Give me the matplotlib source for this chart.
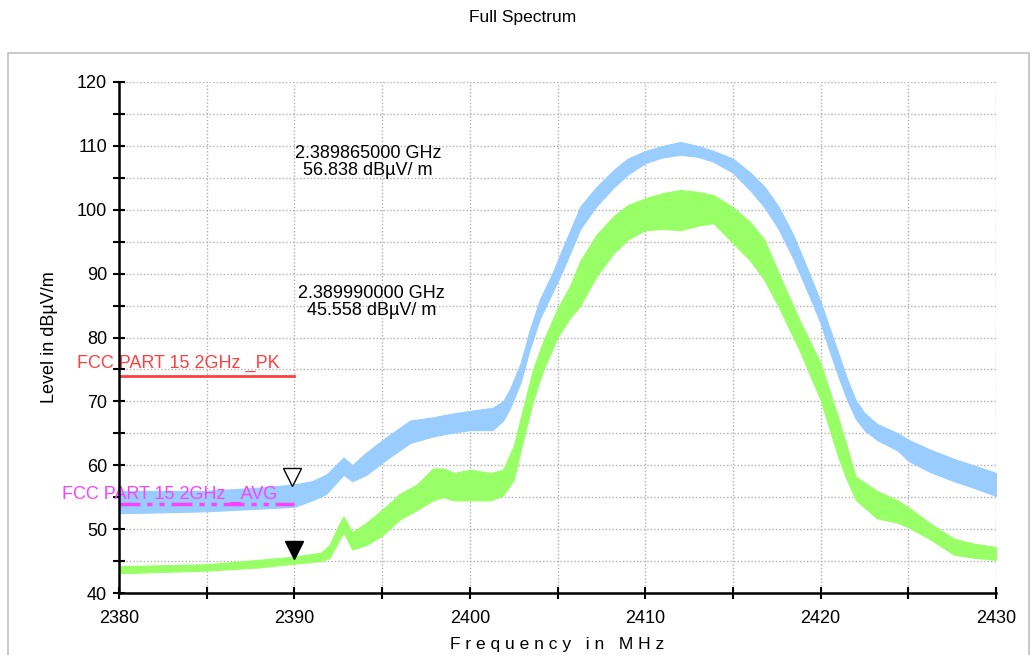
import matplotlib
matplotlib.use('Agg')
import matplotlib.pyplot as plt
from matplotlib.patches import Rectangle
from matplotlib.ticker import MultipleLocator

plt.rcParams['font.family'] = ['Liberation Sans', 'DejaVu Sans']

# peak trace (light blue): frequency [MHz], lower / upper edge of the noisy band [dBuV/m]
pk_freq = [2380, 2382, 2385, 2388, 2390, 2391, 2391.8, 2392.8, 2393.3, 2394.1, 2395.3,
           2396.6, 2397.9, 2398.8, 2400, 2401.3, 2401.9, 2402.3, 2402.9, 2403.4, 2404.0,
           2404.7, 2405.3, 2406.3, 2407.2, 2408.2, 2409, 2410, 2411, 2412, 2413, 2413.9,
           2415, 2416, 2416.8, 2417.6, 2418.4, 2419, 2419.5, 2420, 2420.5, 2421, 2421.5,
           2422, 2422.5, 2423.2, 2424.4, 2425, 2426.2, 2427.6, 2428.7, 2430]
pk_lo = [52.5, 52.6, 52.8, 53.2, 53.5, 54.5, 55.5, 58.5, 57.5, 58.5, 61,
         63.5, 64.5, 65, 65.5, 65.5, 67, 69, 73, 78, 83,
         87, 90.5, 97, 100.5, 103.5, 105.5, 107.3, 108.2, 108.6, 108.3, 107.5,
         105.8, 103, 100.4, 97, 92.6, 88.8, 85.6, 82.2, 78, 74, 70.3,
         67.3, 65.5, 64, 62.3, 60.7, 59, 57.5, 56.5, 55.2]
pk_hi = [56, 56, 56, 56.5, 57, 57.5, 58.5, 61.2, 60, 62, 64.5,
         67, 67.5, 68, 68.5, 69, 70, 72, 76, 81, 86,
         90, 94, 100.5, 103.5, 106.2, 108, 109.2, 110, 110.6, 110, 109.2,
         108, 105.8, 103.6, 100.5, 96.3, 92.4, 89, 85.6, 81.6, 77.6, 73.6,
         70.2, 68.2, 66.5, 65, 64, 62.5, 61, 60, 58.8]

# average trace (light green)
av_freq = [2380, 2385, 2388, 2390, 2391.5, 2392.0, 2392.5, 2392.8, 2393.3, 2394.1, 2395,
           2396, 2397, 2397.9, 2398.5, 2399.1, 2400, 2401.2, 2401.9, 2402.5, 2403.0,
           2403.6, 2404.2, 2405, 2405.7, 2406.3, 2407.2, 2408.2, 2409, 2410, 2411, 2412,
           2413, 2413.9, 2415, 2416, 2416.8, 2417.7, 2418.8, 2420, 2421, 2421.5, 2422,
           2423.2, 2424.4, 2425, 2426.2, 2427.6, 2428.8, 2430]
av_lo = [43.1, 43.5, 44, 44.6, 45, 45.5, 48, 49.5, 46.8, 47.5, 49,
         51.5, 53, 54.5, 55, 54.5, 54.5, 54.5, 55.3, 57.7, 63.5,
         70, 75, 80, 83, 85, 89.5, 93.2, 95.3, 96.8, 97, 96.8,
         97.5, 97.9, 94.8, 92, 89, 84.3, 78, 70.2, 61.3, 57.7, 54.6,
         51.7, 51, 50.3, 48.5, 46, 45.5, 45.2]
av_hi = [44.2, 44.5, 45.2, 45.7, 46.3, 47.5, 50.5, 52, 49.5, 51, 53,
         55.5, 57, 59.5, 59.5, 58.8, 59.3, 58.8, 59.3, 63, 68.5,
         75, 79.5, 84.5, 88, 92, 96, 99, 100.7, 101.8, 102.6, 103.1,
         102.8, 102.3, 100.4, 98, 95.3, 89.5, 82.7, 76, 67.5, 62.9, 58.2,
         56, 54.5, 53.4, 51, 48.5, 47.7, 47.2]

# limit lines
limit_freq = [2380, 2390]
limit_pk = [74, 74]
limit_avg = [54, 54]

# markers
mk1_f, mk1_v = 2389.865, 56.838
mk2_f, mk2_v = 2389.990, 45.558

fig = plt.figure(figsize=(10.32, 6.55), dpi=100)
fig.patches.append(Rectangle((8 / 1032, -0.05), 1021 / 1032, 1.05 - 53 / 655,
                             transform=fig.transFigure, fill=False,
                             edgecolor='#c0c0c0', linewidth=1.2))
fig.text(0.506, 0.974, 'Full Spectrum', ha='center', va='center', fontsize=12.5)

ax = fig.add_axes([119 / 1032, 1 - 593 / 655, 877 / 1032, 511 / 655])

ax.fill_between(pk_freq, pk_lo, pk_hi, color='#99ccff', linewidth=0.8, edgecolor='#99ccff', zorder=3)
ax.fill_between(av_freq, av_lo, av_hi, color='#99ff66', linewidth=0.8, edgecolor='#99ff66', zorder=4)

ax.plot(limit_freq, limit_pk, color='#ff4040', lw=2, zorder=5)
ax.plot(limit_freq, limit_avg, color='#ff40ff', lw=2.5, ls=(0, (6, 2, 1.5, 2, 1.5, 2)), zorder=5)
ax.text(2377.6, 75.9, 'FCC PART 15 2GHz _PK', color='#ff4040', fontsize=13,
        ha='left', va='center', clip_on=False, zorder=6)
ax.text(2376.75, 55.4, 'FCC PART 15 2GHz _AVG', color='#ff40ff', fontsize=13,
        ha='left', va='center', clip_on=False, zorder=6)

ax.plot([mk1_f], [58.2], marker='v', ms=13, mfc='white', mec='black', mew=1, zorder=7)
ax.plot([mk2_f], [46.7], marker='v', ms=13, mfc='black', mec='black', zorder=7)

ax.text(2394.2, 107.4, '%.9f GHz\n%.3f dBµV/ m' % (mk1_f / 1000, mk1_v),
        ha='center', va='center', multialignment='center', fontsize=13, linespacing=1.0)
ax.text(2394.4, 85.6, '%.9f GHz\n%.3f dBµV/ m' % (mk2_f / 1000, mk2_v),
        ha='center', va='center', multialignment='center', fontsize=13, linespacing=1.0)

ax.set_xlim(2380, 2430)
ax.set_ylim(40, 120)
ax.xaxis.set_major_locator(MultipleLocator(10))
ax.xaxis.set_minor_locator(MultipleLocator(5))
ax.yaxis.set_major_locator(MultipleLocator(10))
ax.yaxis.set_minor_locator(MultipleLocator(5))
ax.grid(True, which='both', color='#b0b0b0', ls=(0, (1, 1.5)), lw=1)
ax.set_axisbelow(True)

for s in ['top', 'right']:
    ax.spines[s].set_visible(False)
for s in ['left', 'bottom']:
    ax.spines[s].set_linewidth(1.8)
    ax.spines[s].set_zorder(8)
ax.tick_params(which='both', direction='inout', length=9, width=1.5, labelsize=13)
ax.tick_params(axis='x', pad=8)
ax.tick_params(axis='y', pad=4)

ax.set_xlabel('F r e q u e n c y   i n   M H z', fontsize=12.5, labelpad=7)
ax.set_ylabel('Level in dBµV/m', fontsize=13, labelpad=14)

fig.savefig('out.png', dpi=100)
